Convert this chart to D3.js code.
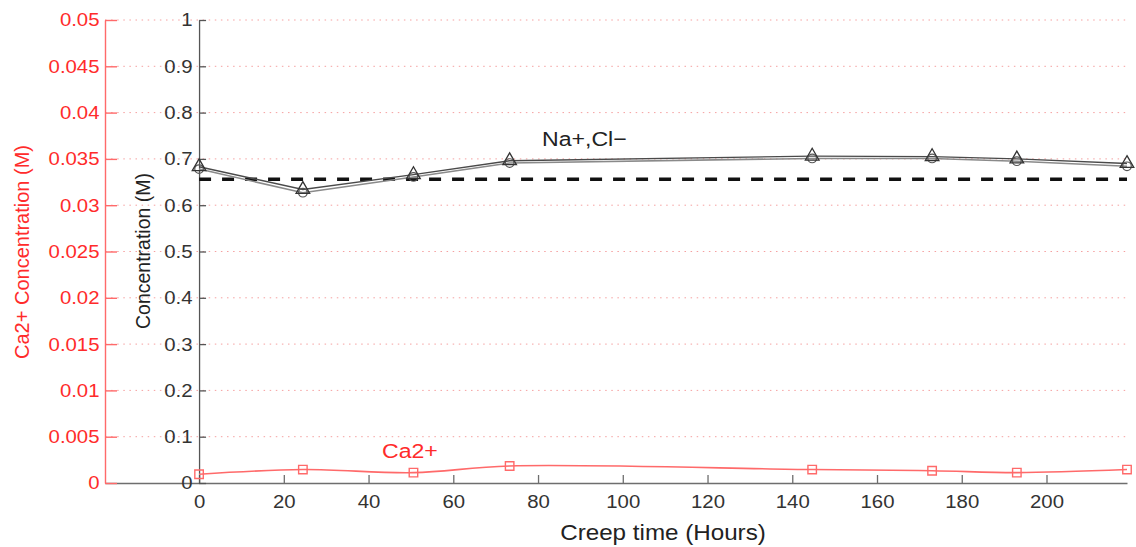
<!DOCTYPE html>
<html>
<head>
<meta charset="utf-8">
<script src="https://cdn.jsdelivr.net/npm/d3@7/dist/d3.min.js"></script>
<style>
  html, body { margin: 0; padding: 0; background: #fff; }
  svg { display: block; }
  text { font-family: "Liberation Sans", Arial, Helvetica, sans-serif; }
</style>
</head>
<body>
<svg id="chart" width="1136" height="547"></svg>
<script>
// Sampling times (hours)
const hours = [0, 24.5, 50.6, 73.3, 144.7, 173, 193, 219];
// Na+ and Cl- concentrations (M), left inner axis
const naConc = [0.683, 0.634, 0.666, 0.696, 0.706, 0.705, 0.700, 0.690];
const clConc = [0.678, 0.627, 0.661, 0.691, 0.701, 0.701, 0.695, 0.684];
// Reference NaCl concentration (dashed line)
const refConc = 0.656;
// Ca2+ concentration (M), outer red axis
const caConc = [0.00095, 0.00145, 0.00112, 0.00184, 0.00145, 0.00133, 0.00112, 0.00145];
// Tick values
const xTicks = [0, 20, 40, 60, 80, 100, 120, 140, 160, 180, 200];
const yTicks = [0, 0.1, 0.2, 0.3, 0.4, 0.5, 0.6, 0.7, 0.8, 0.9, 1];
const caTicks = [0, 0.005, 0.01, 0.015, 0.02, 0.025, 0.03, 0.035, 0.04, 0.045, 0.05];

const svg = d3.select("#chart");
const RED = "#ff2b2b";
const RED_LINE = "#ff6a6a";
const STRETCH = "scale(1.1,1)";

const x = d3.scaleLinear().domain([-22.2, 219]).range([105, 1127]);
const y = d3.scaleLinear().domain([0, 1]).range([483, 20]);
const yCa = d3.scaleLinear().domain([0, 0.05]).range([483, 20]);

// dotted horizontal grid
svg.append("g")
  .selectAll("line")
  .data(yTicks.filter(d => d > 0))
  .join("line")
  .attr("x1", x(-22.2)).attr("x2", x(219))
  .attr("y1", d => y(d)).attr("y2", d => y(d))
  .attr("stroke", "#f5a0a0")
  .attr("stroke-width", 1)
  .attr("stroke-dasharray", "1.5,4.6");

// x axis
const gx = svg.append("g")
  .attr("transform", `translate(0,${y(0)})`)
  .call(d3.axisBottom(x).tickValues(xTicks).tickFormat(d3.format("d"))
    .tickSizeInner(-8).tickSizeOuter(0).tickPadding(12));
gx.select(".domain").attr("stroke", "#6e6e6e").attr("stroke-width", 1.3);
gx.selectAll(".tick line").attr("stroke", "#6e6e6e").attr("stroke-width", 1.3);
gx.selectAll(".tick text").attr("fill", "#333").attr("font-size", 18.5)
  .attr("transform", STRETCH);

// outer (red) Ca2+ axis
const gCa = svg.append("g")
  .attr("transform", `translate(${x(-22.2)},0)`)
  .call(d3.axisLeft(yCa).tickValues(caTicks).tickFormat(d => d === 0 ? "0" : String(+d.toFixed(3)))
    .tickSizeInner(-12).tickSizeOuter(0).tickPadding(5));
gCa.select(".domain").attr("stroke", RED_LINE).attr("stroke-width", 1.4);
gCa.selectAll(".tick line").attr("stroke", RED_LINE).attr("stroke-width", 1.4);
gCa.selectAll(".tick text").attr("fill", RED).attr("font-size", 18.5)
  .attr("transform", STRETCH);

// inner (black) concentration axis
const gy = svg.append("g")
  .attr("transform", `translate(${x(0)},0)`)
  .call(d3.axisLeft(y).tickValues(yTicks).tickFormat(d => String(+d.toFixed(1)))
    .tickSizeInner(-7).tickSizeOuter(0).tickPadding(6));
gy.select(".domain").attr("stroke", "#555").attr("stroke-width", 1.3);
gy.selectAll(".tick line").attr("stroke", "#555").attr("stroke-width", 1.3);
gy.selectAll(".tick text").attr("fill", "#333").attr("font-size", 18.5)
  .attr("transform", STRETCH);

// reference dashed line
svg.append("line")
  .attr("x1", x(0)).attr("x2", x(219))
  .attr("y1", y(refConc)).attr("y2", y(refConc))
  .attr("stroke", "#111").attr("stroke-width", 3.6)
  .attr("stroke-dasharray", "12,11");

// Na+ and Cl- lines
const line = d3.line().x((d, i) => x(hours[i])).y(d => y(d));
svg.append("path").datum(clConc).attr("d", line)
  .attr("fill", "none").attr("stroke", "#8a8a8a").attr("stroke-width", 1.6);
svg.append("path").datum(naConc).attr("d", line)
  .attr("fill", "none").attr("stroke", "#4a4a4a").attr("stroke-width", 1.4);

// Cl- markers (circles)
svg.append("g").selectAll("circle").data(clConc).join("circle")
  .attr("cx", (d, i) => x(hours[i])).attr("cy", d => y(d)).attr("r", 4.3)
  .attr("fill", "none").attr("stroke", "#555").attr("stroke-width", 1.2);

// Na+ markers (triangles)
const tri = d3.symbol().type(d3.symbolTriangle).size(80);
svg.append("g").selectAll("path").data(naConc).join("path")
  .attr("d", tri)
  .attr("transform", (d, i) => `translate(${x(hours[i])},${y(d)})`)
  .attr("fill", "none").attr("stroke", "#333").attr("stroke-width", 1.3);

// Ca2+ smoothed line with square markers
const caLine = d3.line().x((d, i) => x(hours[i])).y(d => yCa(d)).curve(d3.curveCatmullRom.alpha(0.5));
svg.append("path").datum(caConc).attr("d", caLine)
  .attr("fill", "none").attr("stroke", RED_LINE).attr("stroke-width", 1.6);
const sq = d3.symbol().type(d3.symbolSquare).size(72);
svg.append("g").selectAll("path").data(caConc).join("path")
  .attr("d", sq)
  .attr("transform", (d, i) => `translate(${x(hours[i])},${yCa(d)})`)
  .attr("fill", "none").attr("stroke", RED_LINE).attr("stroke-width", 1.4);

// series labels
svg.append("text").attr("transform", `translate(542,146) ${STRETCH}`)
  .attr("font-size", 21).attr("fill", "#222").text("Na+,Cl\u2212");
svg.append("text").attr("transform", `translate(382,458) ${STRETCH}`)
  .attr("font-size", 21).attr("fill", RED).text("Ca2+");

// axis titles
svg.append("text").attr("transform", `translate(663,540) ${STRETCH}`)
  .attr("text-anchor", "middle").attr("font-size", 22).attr("fill", "#222")
  .text("Creep time (Hours)");
svg.append("text").attr("transform", "translate(29,252) rotate(-90)")
  .attr("text-anchor", "middle").attr("font-size", 20).attr("fill", RED)
  .text("Ca2+ Concentration (M)");
svg.append("text").attr("transform", "translate(150,251) rotate(-90)")
  .attr("text-anchor", "middle").attr("font-size", 19.5).attr("fill", "#222")
  .text("Concentration (M)");
</script>
</body>
</html>
